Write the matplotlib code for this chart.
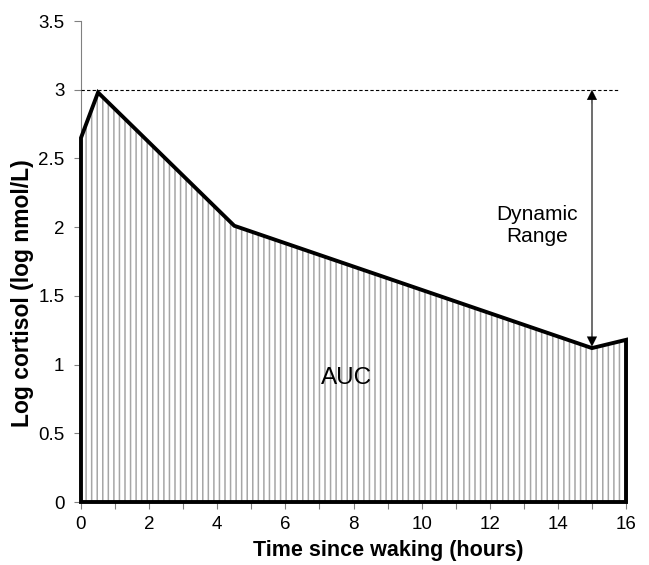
"""
Cortisol curve: log cortisol over the waking day, with AUC shading and dynamic range.
"""

import numpy as np
import matplotlib.pyplot as plt

plt.rcParams['font.family'] = ['Liberation Sans', 'DejaVu Sans']
plt.rcParams['hatch.linewidth'] = 1.1

# ---- Data ----
hours = [0, 0.5, 4.5, 15, 16]
log_cortisol = [2.65, 2.98, 2.01, 1.12, 1.18]

peak_level = 3.0
dashed_end = 15.75
arrow_x = 15
arrow_bottom = 1.13

x_ticks = [0, 2, 4, 6, 8, 10, 12, 14, 16]
y_ticks = [0, 0.5, 1, 1.5, 2, 2.5, 3, 3.5]

# ---- Plot ----
fig = plt.figure(figsize=(6.49, 5.65), dpi=100)
ax = fig.add_axes([0.1248, 0.1115, 0.8398, 0.8513])

# closed outline (curve plus the baseline)
poly_x = hours + [hours[-1], hours[0]]
poly_y = log_cortisol + [0, 0]

# hatched area under the curve
ax.fill(poly_x, poly_y, facecolor='white', edgecolor='#a6a6a6',
        hatch='|||', linewidth=0, zorder=2)
ax.fill(poly_x, poly_y, facecolor='none', edgecolor='black',
        linewidth=2.8, joinstyle='miter', zorder=4, clip_on=False)

# dashed line at peak
ax.plot([0, dashed_end], [peak_level, peak_level], color='black',
        linewidth=0.8, dashes=(3, 2), zorder=3)

# dynamic range arrow
ax.plot([arrow_x, arrow_x], [arrow_bottom + 0.05, peak_level - 0.05],
        color='#555555', linewidth=1.2, zorder=5)
ax.annotate('', xy=(arrow_x, peak_level), xytext=(arrow_x, peak_level - 0.1),
            arrowprops=dict(arrowstyle='-|>', color='black', lw=0.1,
                            mutation_scale=18, shrinkA=0, shrinkB=0), zorder=6)
ax.annotate('', xy=(arrow_x, arrow_bottom), xytext=(arrow_x, arrow_bottom + 0.1),
            arrowprops=dict(arrowstyle='-|>', color='black', lw=0.1,
                            mutation_scale=18, shrinkA=0, shrinkB=0), zorder=6)

ax.text(13.4, 2.01, 'Dynamic\nRange', fontsize=15, ha='center', va='center',
        linespacing=1.2)
ax.text(7.8, 0.9, 'AUC', fontsize=17.5, ha='center', va='center', zorder=5)

# ---- Axes styling ----
ax.set_xlim(0, 16)
ax.set_ylim(0, 3.5)
ax.set_xticks(x_ticks)
ax.set_xticks(np.arange(0, 17, 1), minor=True)
ax.set_yticks(y_ticks)
ax.set_yticklabels(['0', '0.5', '1', '1.5', '2', '2.5', '3', '3.5'])

for side in ['top', 'right']:
    ax.spines[side].set_visible(False)
for side in ['left', 'bottom']:
    ax.spines[side].set_color('#808080')
    ax.spines[side].set_linewidth(0.8)

ax.tick_params(axis='both', which='both', colors='#808080', labelcolor='black',
               labelsize=13.5, width=0.8, direction='out')
ax.tick_params(axis='x', which='both', length=5, pad=5)
ax.tick_params(axis='y', length=5, pad=7)

ax.set_xlabel('Time since waking (hours)', fontsize=15.5, fontweight='bold')
ax.set_ylabel('Log cortisol (log nmol/L)', fontsize=16.5, fontweight='bold')
# labels sit off-centre in the original
ax.xaxis.set_label_coords(0.563, -0.079)
ax.yaxis.set_label_coords(-0.086, 0.435)

plt.savefig('out.png', dpi=100)
